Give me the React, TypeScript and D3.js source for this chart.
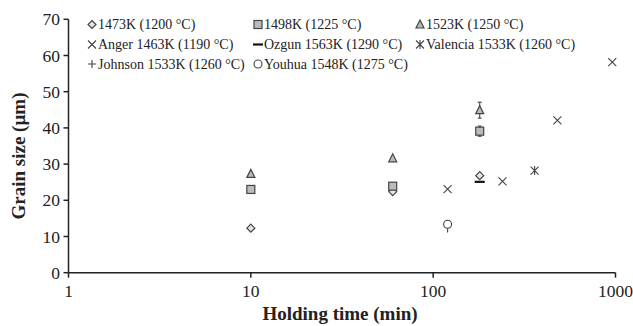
import React from "react";
import * as d3 from "d3";

const W = 633, H = 326;
const xTicks = [1, 10, 100, 1000];
const yTicks = [0, 10, 20, 30, 40, 50, 60, 70];

const s1473x = [10, 60, 180];
const s1473y = [12.3, 22.4, 26.8];
const s1498x = [10, 60, 180];
const s1498y = [23.0, 23.9, 39.1];
const s1498err = [0, 0, 1.4];
const s1523x = [10, 60, 180];
const s1523y = [27.3, 31.6, 44.9];
const s1523err = [0, 0, 2.2];
const angerX = [120, 240, 480, 960];
const angerY = [23.1, 25.2, 42.1, 58.2];
const ozgunX = [180];
const ozgunY = [25.1];
const valenciaX = [360];
const valenciaY = [28.2];
const johnsonX = [120];
const johnsonY = [13.4];
const youhuaX = [120];
const youhuaY = [13.4];
const youhuaErr = [2.3];

const legendLabels = [
  "1473K (1200 °C)", "1498K (1225 °C)", "1523K (1250 °C)",
  "Anger 1463K (1190 °C)", "Ozgun 1563K (1290 °C)", "Valencia 1533K (1260 °C)",
  "Johnson 1533K (1260 °C)", "Youhua 1548K (1275 °C)",
];
const legendKinds = ["diamond", "square", "triangle", "x", "dash", "asterisk", "plus", "circle"];

const C = "#444";
const FONT = "'Liberation Serif', 'Times New Roman', serif";

function Marker({ kind, x, y }: { kind: string; x: number; y: number }) {
  const t = `translate(${x},${y})`;
  switch (kind) {
    case "diamond":
      return <path transform={t} d="M0,-4L4,0L0,4L-4,0Z" fill="#e4e4e4" stroke={C} strokeWidth={1.2} />;
    case "square":
      return <rect transform={t} x={-4} y={-4} width={8} height={8} fill="#bbb" stroke={C} strokeWidth={1.2} />;
    case "triangle":
      return <path transform={t} d="M0,-4.5L4,3.5L-4,3.5Z" fill="#bbb" stroke={C} strokeWidth={1.2} />;
    case "x":
      return <path transform={t} d="M-4,-4L4,4M-4,4L4,-4" stroke={C} strokeWidth={1.1} />;
    case "dash":
      return <path transform={t} d="M-5,0L5,0" stroke="#111" strokeWidth={2.2} />;
    case "asterisk":
      return <path transform={t} d="M-4,-4L4,4M-4,4L4,-4M0,-4.5L0,4.5" stroke={C} strokeWidth={1.1} />;
    case "plus":
      return <path transform={t} d="M-4,0L4,0M0,-4L0,4" stroke={C} strokeWidth={1.1} />;
    case "circle":
      return <circle transform={t} r={4} fill="#fff" stroke={C} strokeWidth={1.1} />;
  }
  return null;
}

export default function App() {
  const x = d3.scaleLog().domain([1, 1000]).range([68.5, 615.5]);
  const y = d3.scaleLinear().domain([0, 70]).range([272.7, 19.3]);

  const errBar = (xv: number, yv: number, e: number, key: string, caps = true) =>
    e > 0 ? (
      <g key={key} stroke={C} strokeWidth={1.1}>
        <line x1={x(xv)} x2={x(xv)} y1={y(yv - e)} y2={y(caps ? yv + e : yv)} />
        {caps && <line x1={x(xv) - 2} x2={x(xv) + 2} y1={y(yv - e)} y2={y(yv - e)} />}
        {caps && <line x1={x(xv) - 2} x2={x(xv) + 2} y1={y(yv + e)} y2={y(yv + e)} />}
      </g>
    ) : null;

  const series: [string, number[], number[]][] = [
    ["diamond", s1473x, s1473y],
    ["plus", johnsonX, johnsonY],
    ["circle", youhuaX, youhuaY],
    ["square", s1498x, s1498y],
    ["triangle", s1523x, s1523y],
    ["x", angerX, angerY],
    ["dash", ozgunX, ozgunY],
    ["asterisk", valenciaX, valenciaY],
  ];

  const legX = [92, 258, 420];
  const legY = [24.5, 44.5, 64];

  return (
    <svg width={W} height={H} style={{ position: "absolute", left: 0, top: 0 }} fontFamily={FONT}>
      <rect width={W} height={H} fill="#fff" />
      <g stroke="#222" strokeWidth={1.5} fill="none">
        <line x1={x(1)} x2={x(1)} y1={y(70)} y2={y(0)} />
        <line x1={x(1)} x2={x(1000)} y1={y(0)} y2={y(0)} />
        {yTicks.map((t) => (
          <line key={"yt" + t} x1={x(1) - 5} x2={x(1)} y1={y(t)} y2={y(t)} />
        ))}
        {xTicks.map((t) => (
          <line key={"xt" + t} x1={x(t)} x2={x(t)} y1={y(0)} y2={y(0) + 5} />
        ))}
      </g>
      {yTicks.map((t) => (
        <text key={"yl" + t} x={60} y={y(t)} dy="0.35em" textAnchor="end" fontSize={17.5} fill="#222">
          {t}
        </text>
      ))}
      {xTicks.map((t) => (
        <text key={"xl" + t} x={x(t)} y={297} textAnchor="middle" fontSize={17.5} fill="#222">
          {t}
        </text>
      ))}
      <text x={340} y={320} textAnchor="middle" fontSize={19} fontWeight="bold" fill="#222">
        Holding time (min)
      </text>
      <text transform={`translate(25,156) rotate(-90)`} textAnchor="middle" fontSize={19} fontWeight="bold" fill="#222">
        Grain size (µm)
      </text>
      {s1498x.map((xv, i) => errBar(xv, s1498y[i], s1498err[i], "e98" + i))}
      {s1523x.map((xv, i) => errBar(xv, s1523y[i], s1523err[i], "e23" + i))}
      {series.map(([kind, xs, ys]) =>
        xs.map((xv, i) => <Marker key={kind + i} kind={kind} x={x(xv)} y={y(ys[i])} />)
      )}
      {youhuaX.map((xv, i) => (
        <line key={"yh" + i} stroke={C} strokeWidth={1.1} x1={x(xv)} x2={x(xv)}
          y1={y(youhuaY[i]) + 4} y2={y(youhuaY[i] - youhuaErr[i])} />
      ))}
      {legendLabels.map((lab, i) => {
        const cx = legX[i % 3];
        const cy = legY[Math.floor(i / 3)];
        return (
          <g key={"lg" + i}>
            <Marker kind={legendKinds[i]} x={cx} y={cy} />
            <text x={cx + 6} y={cy} dy="0.35em" fontSize={14} fill="#222">
              {lab}
            </text>
          </g>
        );
      })}
    </svg>
  );
}
